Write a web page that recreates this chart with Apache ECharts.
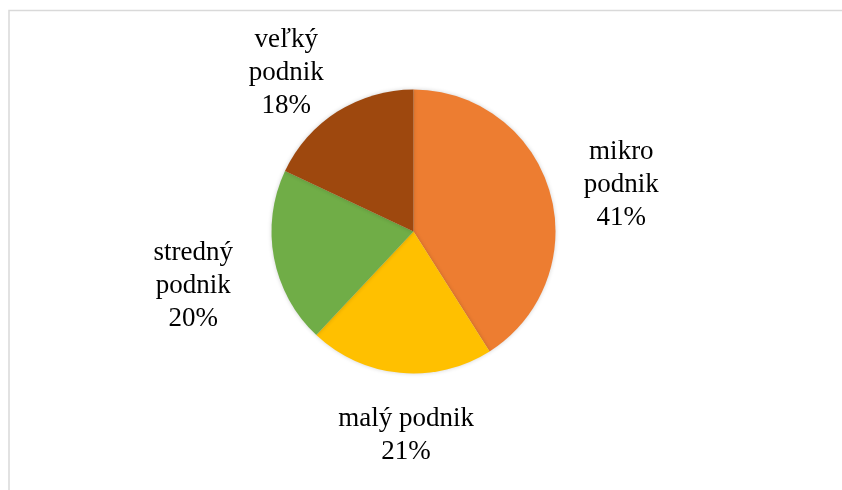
<!DOCTYPE html>
<html>
<head>
<meta charset="utf-8">
<script src="https://cdn.jsdelivr.net/npm/echarts@6/dist/echarts.min.js"></script>
<style>
  html, body { margin: 0; padding: 0; background: #ffffff; }
  #chart { width: 842px; height: 490px; }
</style>
</head>
<body>
<div id="chart"></div>
<script>
// Podiel podnikov podľa veľkosti (%)
const categories = ['mikro podnik', 'malý podnik', 'stredný podnik', 'veľký podnik'];
const shares = [41, 21, 20, 18];
const colors = ['#ED7D31', '#FFC000', '#70AD47', '#9E480E'];

const CENTER = [413.5, 231.5];
const RADIUS = 142;
// label placement around the pie: distance from centre and small angular shift (deg)
const labelDist = [213, 204, 227, 203];
const labelShift = [3.6, -3.3, -3.1, -6.4];
// whether the category name is split over two lines
const labelSplit = [true, false, true, true];

const total = shares.reduce((a, b) => a + b, 0);
const midAngles = [];
let acc = 0;
shares.forEach(v => { midAngles.push((acc + v / 2) / total * 360); acc += v; });

const chart = echarts.init(document.getElementById('chart'), null, { renderer: 'canvas' });

chart.setOption({
  backgroundColor: '#ffffff',
  animation: false,
  graphic: [{
    type: 'rect',
    shape: { x: 9, y: 10.5, width: 900, height: 600 },
    style: { fill: 'none', stroke: '#D9D9D9', lineWidth: 1.5 },
    silent: true
  }],
  series: [{
    type: 'pie',
    center: CENTER,
    radius: RADIUS,
    startAngle: 90,
    clockwise: true,
    avoidLabelOverlap: false,
    itemStyle: {
      borderWidth: 0,
      shadowBlur: 4,
      shadowColor: 'rgba(0,0,0,0.18)'
    },
    label: {
      show: true,
      position: 'outside',
      fontFamily: '"Liberation Serif", "Times New Roman", serif',
      fontSize: 27,
      lineHeight: 33,
      color: '#000000',
      align: 'center',
      formatter: p => {
        const name = labelSplit[p.dataIndex] ? p.name.replace(' ', '\n') : p.name;
        return name + '\n' + p.value + '%';
      }
    },
    labelLine: { show: false },
    labelLayout: function (params) {
      const i = params.dataIndex;
      const a = (midAngles[i] + labelShift[i]) * Math.PI / 180;
      return {
        x: CENTER[0] + Math.sin(a) * labelDist[i],
        y: CENTER[1] - Math.cos(a) * labelDist[i],
        align: 'center',
        verticalAlign: 'middle'
      };
    },
    emphasis: { disabled: true },
    data: categories.map((name, i) => ({
      name: name,
      value: shares[i],
      itemStyle: { color: colors[i] }
    }))
  }]
});
</script>
</body>
</html>
